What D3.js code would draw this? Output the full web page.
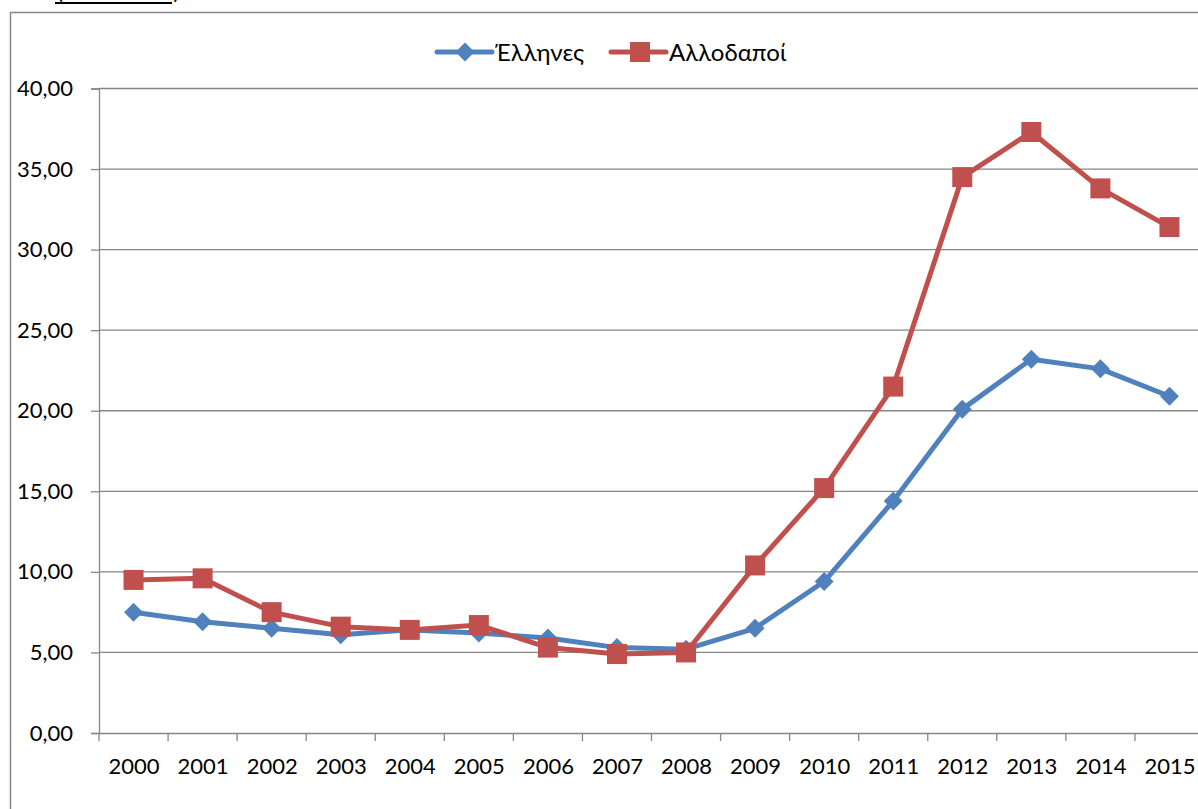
<!DOCTYPE html>
<html><head><meta charset="utf-8">
<script src="https://cdn.jsdelivr.net/npm/d3@7"></script>
<style>body{margin:0;background:#fff;}svg{display:block;}</style>
</head><body>
<svg id="c" width="1198" height="809"></svg>
<script>
const years = ["2000","2001","2002","2003","2004","2005","2006","2007","2008","2009","2010","2011","2012","2013","2014","2015"];
const greeks = [7.5,6.9,6.5,6.1,6.4,6.2,5.9,5.3,5.2,6.5,9.4,14.4,20.1,23.2,22.6,20.9];
const foreigners = [9.5,9.6,7.5,6.6,6.4,6.7,5.3,4.9,5.0,10.4,15.2,21.5,34.5,37.3,33.8,31.4];
const yTicks = [0,5,10,15,20,25,30,35,40];
const seriesNames = ["Έλληνες","Αλλοδαποί"];

(function(){
const svg = d3.select("#c");
const font = "Lato, 'Open Sans', sans-serif";
const grey = "#868686";
const blue = "#4F81BD", red = "#C0504D";

// outer frame
svg.append("rect").attr("x",10.5).attr("y",12.5).attr("width",1300).attr("height",900)
  .attr("fill","none").attr("stroke",grey).attr("stroke-width",1.5);

// cut-off heading fragment at top
svg.append("text").attr("x",57).attr("y",-1).attr("font-family",font).attr("font-size",22)
  .attr("fill","#000").text("(ποσοστά %)");
svg.append("line").attr("x1",55).attr("x2",172).attr("y1",3).attr("y2",3)
  .attr("stroke","#000").attr("stroke-width",2);

const pLeft = 99, pRight = 1204, pTop = 88.5, pBottom = 733;
const x = d3.scalePoint().domain(years).range([pLeft, pRight]).padding(0.5);
const y = d3.scaleLinear().domain([0,40]).range([pBottom, pTop]);
const step = x.step();

// gridlines
svg.append("g").selectAll("line").data(yTicks.filter(d=>d>0)).join("line")
  .attr("x1",pLeft).attr("x2",pRight).attr("y1",d=>y(d)).attr("y2",d=>y(d))
  .attr("stroke",grey).attr("stroke-width",1.3);

// y axis
const yAxis = svg.append("g").attr("transform",`translate(${pLeft},0)`)
  .call(d3.axisLeft(y).tickValues(yTicks).tickSize(8).tickPadding(18)
    .tickFormat(d=>d3.format(".2f")(d).replace(".",",")));
yAxis.select(".domain").attr("stroke",grey).attr("stroke-width",1.3);
yAxis.selectAll(".tick line").attr("stroke",grey).attr("stroke-width",1.3);
yAxis.selectAll("text").attr("font-family",font).attr("font-size",22).attr("fill","#000");

// x axis
const xAxis = svg.append("g").attr("transform",`translate(0,${pBottom})`)
  .call(d3.axisBottom(x).tickSize(0).tickPadding(25));
xAxis.select(".domain").attr("stroke",grey).attr("stroke-width",1.3);
xAxis.selectAll("text").attr("font-family",font).attr("font-size",22).attr("fill","#000");
svg.append("g").selectAll("line").data(d3.range(years.length+1)).join("line")
  .attr("x1",i=>pLeft+i*step).attr("x2",i=>pLeft+i*step)
  .attr("y1",pBottom).attr("y2",pBottom+8).attr("stroke",grey).attr("stroke-width",1.3);

const line = d3.line().x((d,i)=>x(years[i])).y(d=>y(d));

// Greeks
svg.append("path").datum(greeks).attr("d",line).attr("fill","none")
  .attr("stroke",blue).attr("stroke-width",5).attr("stroke-linejoin","round");
svg.append("g").selectAll("path").data(greeks).join("path")
  .attr("d",d3.symbol(d3.symbolSquare,180))
  .attr("transform",(d,i)=>`translate(${x(years[i])},${y(d)}) rotate(45)`)
  .attr("fill",blue);
// Foreigners
svg.append("path").datum(foreigners).attr("d",line).attr("fill","none")
  .attr("stroke",red).attr("stroke-width",5).attr("stroke-linejoin","round");
svg.append("g").selectAll("rect").data(foreigners).join("rect")
  .attr("x",(d,i)=>x(years[i])-10).attr("y",d=>y(d)-10).attr("width",20).attr("height",20)
  .attr("fill",red);

// legend
const lg = svg.append("g");
lg.append("line").attr("x1",437).attr("x2",492).attr("y1",52).attr("y2",52)
  .attr("stroke",blue).attr("stroke-width",5).attr("stroke-linecap","round");
lg.append("path").attr("d",d3.symbol(d3.symbolSquare,180))
  .attr("transform","translate(465,52) rotate(45)").attr("fill",blue);
lg.append("text").attr("x",495).attr("y",61).attr("font-family",font).attr("font-size",24)
  .attr("fill","#000").text(seriesNames[0]);
lg.append("line").attr("x1",611).attr("x2",666).attr("y1",52).attr("y2",52)
  .attr("stroke",red).attr("stroke-width",5).attr("stroke-linecap","round");
lg.append("rect").attr("x",630).attr("y",42).attr("width",20).attr("height",20).attr("fill",red);
lg.append("text").attr("x",669).attr("y",61).attr("font-family",font).attr("font-size",24)
  .attr("fill","#000").text(seriesNames[1]);
})();
</script>
</body></html>
